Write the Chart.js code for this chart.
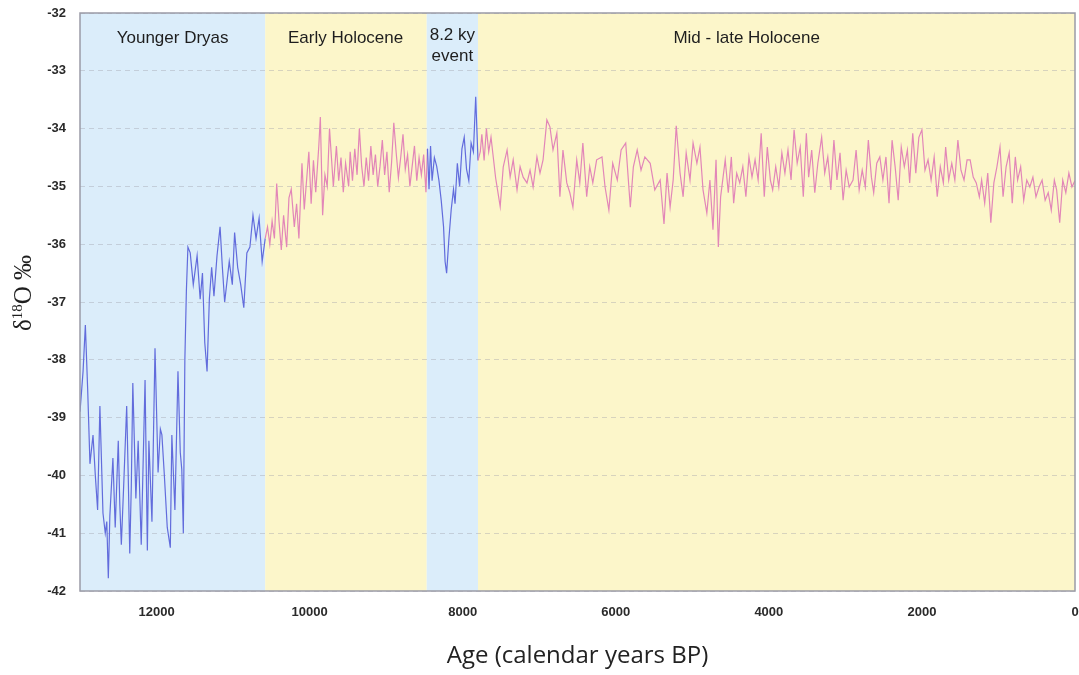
<!DOCTYPE html>
<html><head><meta charset="utf-8">
<script src="https://cdn.jsdelivr.net/npm/chart.js@4"></script>
<style>html,body{margin:0;padding:0;background:#fff}</style>
</head><body>
<canvas id="c" width="1079" height="675"></canvas>
<script>
// ---- Data ----
const ages = [
  // Younger Dryas
  13000,12960,12930,12900,12870,12830,12800,12770,12740,12700,
  12670,12650,12630,12610,12570,12540,12500,12480,12460,12430,
  12390,12370,12350,12330,12310,12270,12240,12200,12150,12120,
  12100,12060,12020,11980,11950,11930,11900,11860,11820,11800,
  11760,11720,11690,11670,11650,11630,11610,11590,11560,11520,
  11470,11430,11400,11370,11340,11310,11280,11250,11210,11170,
  11140,11110,11050,11010,10980,10940,10900,10860,10820,10780,
  10740,10700,10660,10620,10580,
  // Early Holocene
  10550,10520,10490,10460,10430,10400,10370,10340,10300,10270,
  10240,10200,10170,10140,10100,10070,10040,10010,9980,9950,
  9920,9880,9860,9830,9800,9770,9740,9710,9690,9650,
  9620,9590,9560,9530,9490,9470,9440,9410,9380,9350,
  9320,9290,9260,9230,9200,9170,9140,9110,9080,9050,
  9020,8990,8960,8930,8900,8870,8840,8810,8780,8750,
  8720,8690,8660,8630,8600,8570,8540,8510,8480,
  // 8.2 ky event
  8460,8440,8420,8400,8370,8340,8310,8280,8250,8230,
  8210,8180,8150,8120,8100,8070,8040,8010,7980,7950,
  7920,7890,7860,7830,7800,
  // Mid - late Holocene
  7770,7750,7720,7690,7660,7630,7600,7570,7510,7470,
  7420,7380,7340,7290,7250,7210,7160,7120,7080,7030,
  6990,6950,6900,6860,6820,6770,6730,6690,6640,6600,
  6560,6510,6470,6430,6380,6340,6300,6250,6180,6140,
  6090,6040,5980,5930,5870,5810,5770,5720,5670,5620,
  5550,5490,5420,5370,5330,5290,5250,5210,5160,5120,
  5080,5030,4990,4940,4900,4860,4810,4770,4730,4690,
  4660,4630,4570,4530,4490,4460,4420,4380,4340,4300,
  4260,4220,4180,4140,4100,4060,4020,3980,3950,3910,
  3870,3830,3790,3750,3710,3670,3630,3590,3550,3510,
  3480,3440,3400,3360,3310,3270,3230,3190,3150,3110,
  3070,3030,2990,2950,2900,2860,2820,2780,2740,2700,
  2660,2630,2590,2550,2510,2470,2430,2390,2350,2310,
  2270,2230,2190,2160,2120,2080,2040,2000,1960,1920,
  1880,1840,1800,1760,1720,1690,1650,1610,1570,1530,
  1490,1450,1410,1370,1330,1290,1250,1220,1180,1140,
  1100,1060,1020,980,940,900,860,820,780,750,
  710,670,630,590,550,510,470,430,390,350,
  310,270,240,200,160,120,80,40,0
];
const d18O = [
  // Younger Dryas
  -38.9,-38.2,-37.4,-38.5,-39.8,-39.3,-40.0,-40.6,-38.8,-40.65,
  -41.0,-40.8,-41.78,-40.7,-39.7,-40.9,-39.4,-40.5,-41.2,-40.2,
  -38.8,-40.0,-41.35,-40.2,-38.4,-40.4,-39.4,-41.2,-38.35,-41.3,
  -39.4,-40.8,-37.8,-39.95,-39.2,-39.3,-39.95,-40.9,-41.25,-39.3,
  -40.6,-38.2,-39.6,-39.9,-41.0,-38.0,-36.8,-36.05,-36.15,-36.7,
  -36.2,-36.95,-36.5,-37.7,-38.2,-36.95,-36.4,-36.9,-36.2,-35.7,
  -36.4,-37.0,-36.3,-36.7,-35.8,-36.4,-36.7,-37.1,-36.15,-36.05,
  -35.5,-35.9,-35.55,-36.3,-35.9,
  // Early Holocene
  -35.7,-36.0,-35.6,-35.9,-34.95,-35.6,-36.1,-35.5,-36.05,-35.2,
  -35.05,-35.7,-35.3,-35.9,-34.6,-35.4,-34.9,-34.4,-35.3,-34.55,
  -35.1,-34.3,-33.8,-35.5,-34.8,-35.0,-34.0,-34.6,-35.0,-34.3,
  -34.9,-34.5,-35.1,-34.6,-35.0,-34.4,-34.9,-34.35,-34.8,-34.0,
  -34.65,-35.0,-34.5,-34.9,-34.3,-34.8,-34.45,-35.0,-34.65,-34.2,
  -34.8,-34.4,-35.1,-34.6,-33.9,-34.4,-34.85,-34.5,-34.1,-34.7,
  -34.45,-35.0,-34.65,-34.3,-34.9,-34.5,-34.8,-34.45,-35.1,
  // 8.2 ky event
  -34.35,-35.05,-34.3,-34.9,-34.5,-34.65,-34.9,-35.25,-35.7,-36.3,
  -36.5,-35.9,-35.4,-35.05,-35.3,-34.6,-35.0,-34.35,-34.15,-34.7,
  -34.9,-34.25,-34.4,-33.45,-34.55,
  // Mid - late Holocene
  -34.4,-34.1,-34.55,-34.0,-34.4,-34.15,-34.5,-34.85,-35.35,-34.66,
  -34.37,-34.84,-34.54,-35.06,-34.66,-34.84,-34.94,-34.72,-35.01,-34.49,
  -34.77,-34.54,-33.85,-33.97,-34.37,-34.08,-35.18,-34.37,-34.94,-35.11,
  -35.36,-34.54,-34.94,-34.25,-35.18,-34.66,-34.94,-34.54,-34.49,-35.01,
  -35.41,-34.6,-34.89,-34.37,-34.25,-35.36,-34.66,-34.37,-34.72,-34.49,
  -34.6,-35.06,-34.89,-35.65,-34.77,-35.36,-34.89,-33.95,-34.77,-35.18,
  -34.42,-34.89,-34.25,-34.6,-34.32,-35.06,-35.46,-34.89,-35.75,-34.54,
  -36.05,-35.18,-34.54,-35.11,-34.49,-35.29,-34.77,-34.94,-34.66,-35.18,
  -34.49,-34.84,-34.54,-34.89,-34.08,-35.18,-34.32,-34.89,-35.06,-34.66,
  -35.01,-34.42,-34.77,-34.37,-34.89,-34.02,-34.6,-34.32,-35.18,-34.08,
  -34.84,-34.37,-35.11,-34.6,-34.15,-34.77,-34.49,-35.06,-34.2,-34.89,
  -34.42,-35.24,-34.72,-35.01,-34.89,-34.37,-35.06,-34.72,-35.01,-34.2,
  -34.84,-35.11,-34.6,-34.49,-34.89,-34.49,-35.29,-34.2,-34.66,-35.24,
  -34.32,-34.66,-34.37,-34.94,-34.08,-34.77,-34.15,-34.02,-34.72,-34.54,
  -34.89,-34.49,-35.18,-34.66,-34.94,-34.32,-34.89,-34.6,-34.89,-34.2,
  -34.72,-34.89,-34.54,-34.54,-34.84,-34.94,-35.18,-34.89,-35.29,-34.77,
  -35.63,-34.94,-34.66,-34.32,-35.18,-34.66,-34.42,-35.29,-34.49,-34.89,
  -34.66,-35.24,-34.89,-35.01,-34.84,-35.18,-35.01,-34.89,-35.24,-35.11,
  -35.41,-34.89,-35.06,-35.63,-34.89,-35.11,-34.77,-35.01,-34.9
];

const periodNames = ['Younger Dryas', 'Early Holocene', ['8.2 ky', 'event'], 'Mid - late Holocene'];
const periodStart = [13000, 10580, 8470, 7800];
const periodEnd   = [10580, 8470, 7800, 0];
const periodCold  = [true, false, true, false];

const xTicks = [12000, 10000, 8000, 6000, 4000, 2000, 0];
const yTicks = [-32, -33, -34, -35, -36, -37, -38, -39, -40, -41, -42];

// ---- Styles ----
const COLD_BG = 'rgb(219,237,250)';
const WARM_BG = 'rgb(252,246,202)';
const COLD_LINE = 'rgb(98,108,220)';
const WARM_LINE = 'rgb(226,134,184)';

function isCold(age) {
  for (let i = 0; i < periodStart.length; i++) {
    if (age <= periodStart[i] && age >= periodEnd[i]) return periodCold[i];
  }
  return false;
}

const points = ages.map((a, i) => ({x: a, y: d18O[i]}));

const bgPlugin = {
  id: 'bg',
  beforeDraw(chart) {
    const {ctx, chartArea: ca, scales: {x}} = chart;
    ctx.save();
    ctx.fillStyle = '#fff';
    ctx.fillRect(0, 0, chart.width, chart.height);
    for (let i = 0; i < periodStart.length; i++) {
      const x0 = x.getPixelForValue(periodStart[i]);
      const x1 = x.getPixelForValue(periodEnd[i]);
      ctx.fillStyle = periodCold[i] ? COLD_BG : WARM_BG;
      ctx.fillRect(Math.min(x0, x1), ca.top, Math.abs(x1 - x0), ca.bottom - ca.top);
    }
    ctx.restore();
  }
};

const overlayPlugin = {
  id: 'overlay',
  afterDraw(chart, args, opts) {
    const {ctx, chartArea: ca, scales: {x}} = chart;
    ctx.save();
    // frame
    ctx.strokeStyle = '#9b9ba6';
    ctx.lineWidth = 1.5;
    ctx.strokeRect(ca.left, ca.top, ca.right - ca.left, ca.bottom - ca.top);
    // period labels
    ctx.fillStyle = '#1e1e1e';
    ctx.font = '17px "Liberation Sans", Arial, sans-serif';
    ctx.textAlign = 'center';
    ctx.textBaseline = 'middle';
    periodNames.forEach((name, i) => {
      const px = x.getPixelForValue(opts.labelAges[i]);
      const lines = Array.isArray(name) ? name : [name];
      const y0 = lines.length > 1 ? ca.top + 22 : ca.top + 25;
      lines.forEach((ln, j) => ctx.fillText(ln, px, y0 + j * 21));
    });
    // y-axis title: δ18O ‰ (rotated)
    const cy = (ca.top + ca.bottom) / 2 - 9;
    ctx.translate(23, cy);
    ctx.rotate(-Math.PI / 2);
    ctx.textAlign = 'left';
    ctx.textBaseline = 'alphabetic';
    const big = '25px "Liberation Serif", "Times New Roman", serif';
    const small = '15px "Liberation Serif", "Times New Roman", serif';
    const parts = [['δ', big, 0], ['18', small, -9], ['O ‰', big, 0]];
    let total = 0;
    parts.forEach(p => { ctx.font = p[1]; total += ctx.measureText(p[0]).width; });
    let cx = -total / 2;
    parts.forEach(p => {
      ctx.font = p[1];
      ctx.fillText(p[0], cx, 8 + p[2]);
      cx += ctx.measureText(p[0]).width;
    });
    ctx.restore();
  }
};

const tickFont = {family: '"Liberation Sans", Arial, sans-serif', size: 13, weight: 'bold'};

new Chart(document.getElementById('c'), {
  type: 'line',
  data: {
    datasets: [{
      data: points,
      borderWidth: 1.2,
      pointRadius: 0,
      tension: 0,
      borderColor: WARM_LINE,
      segment: {
        borderColor: ctx => isCold((ctx.p0.parsed.x + ctx.p1.parsed.x) / 2) ? COLD_LINE : WARM_LINE
      }
    }]
  },
  options: {
    responsive: false,
    animation: false,
    layout: {padding: {top: 13, right: 4, left: 0, bottom: 0}},
    plugins: {
      legend: {display: false},
      tooltip: {enabled: false},
      overlay: {labelAges: [11790, 9530, 8135, 4290]}
    },
    scales: {
      x: {
        type: 'linear',
        reverse: true,
        min: 0,
        max: 13000,
        afterBuildTicks: s => { s.ticks = xTicks.map(v => ({value: v})); },
        afterFit: s => { s.height = 84; s.paddingLeft = 0; s.paddingRight = 0; },
        grid: {display: false, drawTicks: false},
        border: {display: false},
        ticks: {
          autoSkip: false, maxRotation: 0, padding: 14,
          color: '#2a2a2a', font: tickFont,
          callback: v => String(v)
        },
        title: {
          display: true,
          text: 'Age (calendar years BP)',
          color: '#222',
          font: {family: '"Open Sans", sans-serif', size: 24},
          padding: {top: 0, bottom: 4}
        }
      },
      y: {
        type: 'linear',
        min: -42,
        max: -32,
        afterBuildTicks: s => { s.ticks = yTicks.map(v => ({value: v})); },
        afterFit: s => { s.width = 80; s.paddingTop = 0; s.paddingBottom = 0; },
        grid: {color: 'rgba(160,160,170,0.4)', drawTicks: false, lineWidth: 1},
        border: {display: false, dash: [5, 4]},
        ticks: {
          padding: 14, color: '#2a2a2a', font: tickFont,
          callback: v => String(v)
        }
      }
    }
  },
  plugins: [bgPlugin, overlayPlugin]
});
</script>
</body></html>
